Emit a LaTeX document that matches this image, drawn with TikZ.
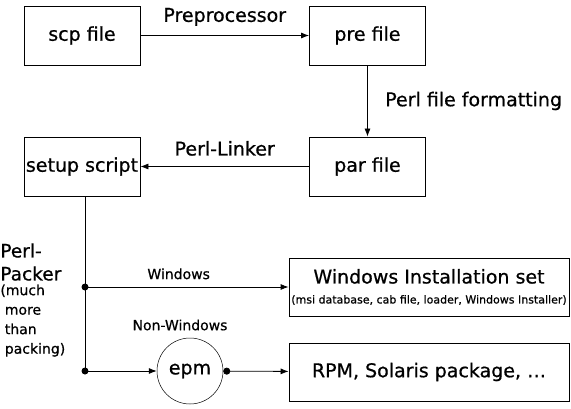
\documentclass[tikz,border=0pt]{standalone}
\usepackage{fontspec}
\setmainfont{DejaVu Sans}[UprightFeatures={FakeBold=0.7}]
\usepackage{tikz}
\usetikzlibrary{arrows.meta,positioning}

\begin{document}
\begin{tikzpicture}[x=1pt, y=1pt, on grid, auto, line width=0.8pt,
>={Latex[length=8pt,width=6pt]},
file/.style={draw, minimum width=116pt, minimum height=59pt, inner sep=0pt, font=\fontsize{19}{23}\selectfont},
target/.style={draw, minimum width=280pt, minimum height=58pt, inner sep=0pt, font=\fontsize{19}{23}\selectfont},
lbl/.style={font=\fontsize{19}{23}\selectfont},
small/.style={font=\fontsize{14}{19.5}\selectfont}]
\useasboundingbox (0,0) rectangle (571,408);
\node [file] (scp) at (82,372.5) {scp file};
\node [file] (pre) [right = 285.5pt of scp] {pre file};
\node [file] (par) [below = 131pt of pre] {par file};
\node [file] (setup) [left = 285.5pt of par] {setup script};
\node [target, align=center] (win) at (429,121) {Windows Installation set\\[-3pt]
{\fontsize{11}{13}\selectfont (msi database, cab file, loader, Windows Installer)}};
\node [target] (rpm) [below = 85pt of win] {RPM, Solaris package, \dots};
\node [circle, draw, minimum size=66pt, inner sep=0pt, line width=0.5pt, lbl] (epm) at (190,37) {epm};
\node [small] (nonwin) [above = 46pt of epm, xshift=-10pt] {Non-Windows};
\node [font=\fontsize{18.5}{23}\selectfont, align=left, anchor=north west, inner sep=0pt] (packer) at (0,165) {Perl-\\Packer};
\node [small, align=left, anchor=north west, inner sep=0pt, yshift=-3pt] (much) at (packer.south west) {(much\\\ more\\\ than\\\ packing)};
\coordinate (w_split) at (85,121);
\coordinate (e_split) at (85,37);
\draw (setup.south -| w_split) -- (e_split);
\fill (w_split) circle (3.5pt) (e_split) circle (3.5pt);
\path [->]
(scp) edge node [lbl, yshift=6pt] {Preprocessor} (pre)
(pre) edge node [lbl, xshift=14pt] {Perl file formatting} (par)
(par) edge node [lbl, swap, yshift=7pt] {Perl-Linker} (setup)
(w_split) edge node [small, pos=0.46, yshift=4pt] {Windows} (w_split -| win.west)
(e_split) edge (epm)
(epm) edge [{Circle[length=7pt]}->] (rpm);
\end{tikzpicture}
\end{document}
